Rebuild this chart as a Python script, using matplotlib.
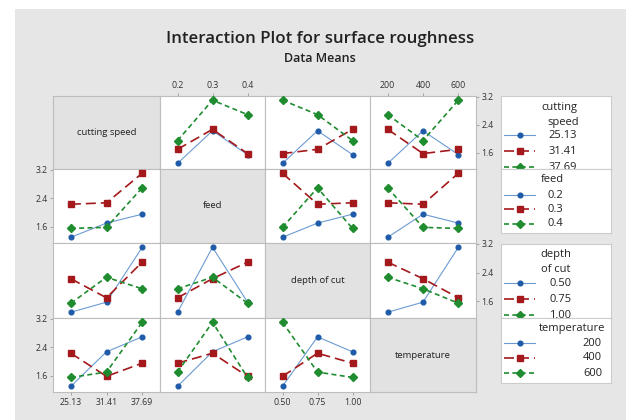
import matplotlib
matplotlib.use("Agg")
import matplotlib.pyplot as plt
import pandas as pd
from matplotlib.patches import Rectangle

plt.rcParams['font.family'] = ['Open Sans', 'DejaVu Sans']

# L9 runs (one observation per factor-pair cell, so means = run values)
cutting_speed = [25.13, 25.13, 25.13, 31.41, 31.41, 31.41, 37.69, 37.69, 37.69]
feed = [0.2, 0.3, 0.4, 0.2, 0.3, 0.4, 0.2, 0.3, 0.4]
depth_of_cut = [0.50, 0.75, 1.00, 0.75, 1.00, 0.50, 1.00, 0.50, 0.75]
temperature = [200, 400, 600, 600, 200, 400, 400, 600, 200]
roughness = [1.30, 2.23, 1.55, 1.70, 2.27, 1.58, 1.95, 3.10, 2.69]

factors = ['cutting speed', 'feed', 'depth of cut', 'temperature']
level_labels = {
    'cutting speed': ['25.13', '31.41', '37.69'],
    'feed': ['0.2', '0.3', '0.4'],
    'depth of cut': ['0.50', '0.75', '1.00'],
    'temperature': ['200', '400', '600'],
}
y_ticks = [1.6, 2.4, 3.2]

df = pd.DataFrame({'cutting speed': cutting_speed, 'feed': feed,
                   'depth of cut': depth_of_cut, 'temperature': temperature,
                   'surface roughness': roughness})

W, H = 627, 420
blue_line, blue_mk = '#6c9bd2', '#1f5ba8'
red = '#a3191c'
green = '#1f8c30'
styles = [
    dict(color=blue_line, lw=0.8, ls='-', marker='o', ms=3.4, mfc=blue_mk, mec=blue_mk),
    dict(color=red, lw=1.2, ls=(0, (6, 3)), marker='s', ms=3.8, mfc=red, mec=red),
    dict(color=green, lw=1.2, ls=(0, (3, 2)), marker='D', ms=3.8, mfc=green, mec=green),
]

fig = plt.figure(figsize=(W / 100, H / 100), dpi=100)
fig.patch.set_facecolor('white')

bg = fig.add_axes([0, 0, 1, 1])
bg.set_xlim(0, W)
bg.set_ylim(H, 0)
bg.axis('off')
bg.add_patch(Rectangle((15, 9), 611, 411, color='#e6e6e6', lw=0))


def px_axes(x0, y0, x1, y1):
    return fig.add_axes([x0 / W, 1 - y1 / H, (x1 - x0) / W, (y1 - y0) / H])


fig.text(320 / W, 1 - 39 / H, 'Interaction Plot for surface roughness',
         ha='center', va='center', fontsize=12.2, fontweight='semibold', color='#222')
fig.text(320 / W, 1 - 58 / H, 'Data Means', ha='center', va='center',
         fontsize=9, fontweight='semibold', color='#222')

col_edges = [53, 160, 265, 370, 476]
row_edges = [96, 169, 243, 318, 392]

for i, fr in enumerate(factors):
    for j, fc in enumerate(factors):
        ax = px_axes(col_edges[j], row_edges[i], col_edges[j + 1], row_edges[i + 1])
        for s in ax.spines.values():
            s.set_color('#bdbdbd')
            s.set_linewidth(0.8)
        ax.tick_params(length=2.5, width=0.6, color='#999999', labelsize=6.3,
                       labelcolor='#333333', pad=1.5)
        ax.set_xlim(-0.5, 2.5)
        ax.set_ylim(1.14, 3.22)
        ax.set_xticks([])
        ax.set_yticks([])
        if i == j:
            ax.set_facecolor('#e2e2e2')
            ax.text(0.5, 0.5, fr, transform=ax.transAxes, ha='center', va='center',
                    fontsize=6.8, color='#222')
            continue
        ax.set_facecolor('white')
        means = df.groupby([fr, fc])['surface roughness'].mean().unstack(fc)
        for k, (lev, row) in enumerate(means.iterrows()):
            ax.plot(range(len(row)), row.values, **styles[k], clip_on=False, zorder=3)

        # alternating tick placement like Minitab
        if i == 0 and j in (1, 3):
            ax.set_xticks(range(3))
            ax.set_xticklabels(level_labels[fc])
            ax.xaxis.set_ticks_position('top')
        if i == 3 and j in (0, 2):
            ax.set_xticks(range(3))
            ax.set_xticklabels(level_labels[fc])
            ax.xaxis.set_ticks_position('bottom')
        if j == 0 and i in (1, 3):
            ax.set_yticks(y_ticks)
            ax.set_yticklabels([str(v) for v in y_ticks])
            ax.yaxis.set_ticks_position('left')
        if j == 3 and i in (0, 2):
            ax.set_yticks(y_ticks)
            ax.set_yticklabels([str(v) for v in y_ticks])
            ax.yaxis.set_ticks_position('right')


# legend sections: (factor, top, bottom, title lines, entry y, label x, label align)
legend_sections = [
    ('cutting speed', 96, 169, [('cutting', 58, 11), ('speed', 62, 26)], [39, 55, 71], 76, 'right'),
    ('feed', 169, 233, [('feed', 51, 10)], [26, 40, 55], 46, 'left'),
    ('depth of cut', 244, 318, [('depth', 55, 10), ('of cut', 55, 25)], [39, 55, 71], 48, 'left'),
    ('temperature', 318, 383, [('temperature', 71, 11)], [25, 40, 55], 101, 'right'),
]
lx0, lx1 = 501, 611
for fname, top, bot, titles, ys, lab_x, align in legend_sections:
    lax = px_axes(lx0, top, lx1, bot)
    lax.set_xlim(0, lx1 - lx0)
    lax.set_ylim(bot - top, 0)
    lax.set_xticks([])
    lax.set_yticks([])
    lax.set_facecolor('white')
    for s in lax.spines.values():
        s.set_color('#cccccc')
        s.set_linewidth(0.8)
    for t, cx, cy in titles:
        lax.text(cx, cy, t, ha='center', va='center', fontsize=8, color='#222', clip_on=True)
    for k, yy in enumerate(ys):
        lax.plot([3, 34], [yy, yy], **{**styles[k], 'marker': None})
        lax.plot([19], [yy], **{**styles[k], 'ls': 'none'})
        lax.text(lab_x, yy, level_labels[fname][k], ha=align, va='center',
                 fontsize=8, color='#222', clip_on=True)

fig.savefig('out.png', dpi=100)
